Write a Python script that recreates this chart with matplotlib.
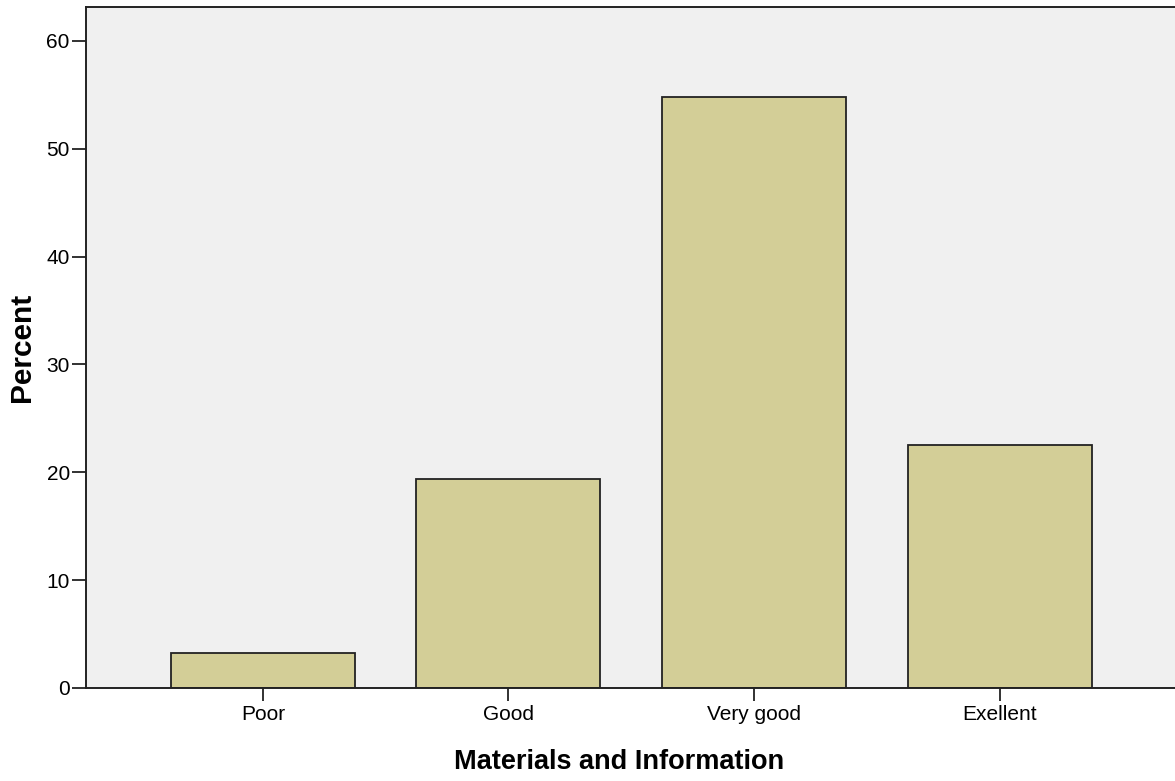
import matplotlib
matplotlib.use('Agg')
import matplotlib.pyplot as plt
import numpy as np

categories = ['Poor', 'Good', 'Very good', 'Exellent']
percent = [3.2, 19.4, 54.8, 22.5]
y_ticks = [0, 10, 20, 30, 40, 50, 60]

BAR_COLOR = '#D3CE97'
BG_COLOR = '#F0F0F0'
FONT = 'Liberation Sans'

fig = plt.figure(figsize=(11.75, 7.81), dpi=100)
ax = fig.add_axes([0.0736, 0.1191, 0.9264, 0.8713])
ax.set_facecolor(BG_COLOR)

x = np.arange(len(categories))
ax.bar(x, percent, width=0.749, color=BAR_COLOR, edgecolor='#222222',
       linewidth=1.3, zorder=2)

ax.set_xlim(-0.718, 3.714)
ax.set_ylim(0, 63.1)
ax.set_xticks(x)
ax.set_xticklabels(categories, family=FONT, fontsize=15)
ax.set_yticks(y_ticks)
ax.set_yticklabels([str(v) for v in y_ticks], family=FONT, fontsize=15)
ax.tick_params(axis='both', direction='out', length=10, width=1.3,
               color='#222222', pad=2)
ax.tick_params(axis='x', length=9.5, pad=3)

for side in ('left', 'top', 'bottom'):
    ax.spines[side].set_linewidth(1.4)
    ax.spines[side].set_color('#222222')
ax.spines['right'].set_visible(False)

ax.set_xlabel('Materials and Information', family=FONT,
              fontweight='bold', fontsize=19.5)
ax.set_ylabel('Percent', family=FONT, fontweight='bold', fontsize=21.5)
# place labels where the reference has them (pixels -> axes fraction)
ax.xaxis.set_label_coords((619 - 86.5) / 1088.5, (688 - 762) / 680.5)
ax.yaxis.set_label_coords((22 - 86.5) / 1088.5, (688 - 347) / 680.5)
ax.xaxis.label.set_va('center')
ax.yaxis.label.set_va('center')

fig.savefig('out.png', dpi=100)
